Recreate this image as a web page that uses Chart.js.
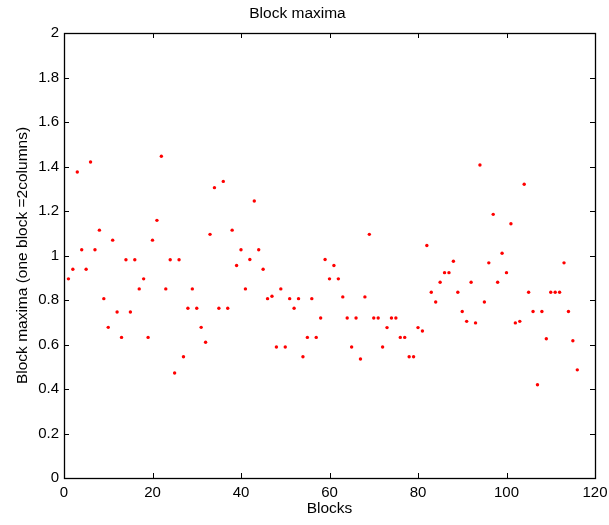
<!DOCTYPE html>
<html>
<head>
<meta charset="utf-8">
<title>Block maxima</title>
<script src="https://cdn.jsdelivr.net/npm/chart.js@4.4.0/dist/chart.umd.min.js"></script>
<style>
  html, body { margin: 0; padding: 0; background: #fff; }
  #wrap { width: 609px; height: 525px; }
</style>
</head>
<body>
<div id="wrap"><canvas id="maximaChart" width="609" height="525"></canvas></div>
<script>
// maximum of each block, block 1 .. 116
var blockMaxima = [
  0.895, 0.938, 1.375, 1.026, 0.938, 1.420, 1.026, 1.114, 0.806, 0.677,
  1.069, 0.746, 0.632, 0.981, 0.746, 0.981, 0.850, 0.895, 0.632, 1.069,
  1.158, 1.446, 0.850, 0.981, 0.472, 0.981, 0.545, 0.763, 0.850, 0.763,
  0.677, 0.610, 1.095, 1.305, 0.763, 1.333, 0.763, 1.114, 0.955, 1.026,
  0.850, 0.982, 1.245, 1.026, 0.938, 0.806, 0.817, 0.589, 0.850, 0.589,
  0.806, 0.763, 0.806, 0.545, 0.632, 0.806, 0.632, 0.719, 0.982, 0.895,
  0.955, 0.895, 0.814, 0.719, 0.589, 0.719, 0.535, 0.814, 1.095, 0.719,
  0.719, 0.589, 0.676, 0.719, 0.719, 0.632, 0.632, 0.545, 0.545, 0.676,
  0.661, 1.045, 0.835, 0.791, 0.880, 0.923, 0.923, 0.974, 0.835, 0.748,
  0.704, 0.880, 0.697, 1.407, 0.791, 0.967, 1.185, 0.880, 1.010, 0.923,
  1.143, 0.697, 0.704, 1.320, 0.835, 0.748, 0.419, 0.748, 0.626, 0.835,
  0.835, 0.835, 0.967, 0.748, 0.617, 0.486
];

var xTicks = [0, 20, 40, 60, 80, 100, 120];
var xTickLabels = ['0', '20', '40', '60', '80', '100', '120'];
var yTicks = [0, 0.2, 0.4, 0.6, 0.8, 1, 1.2, 1.4, 1.6, 1.8, 2];
var yTickLabels = ['0', '0.2', '0.4', '0.6', '0.8', '1', '1.2', '1.4', '1.6', '1.8', '2'];

var points = blockMaxima.map(function (v, i) {
  return { x: i + 1, y: v };
});

Chart.defaults.font.family = '"Liberation Sans", Arial, Helvetica, sans-serif';
Chart.defaults.color = '#000';

// box round the plot with short ticks pointing inwards on all four sides
var boxTicks = {
  id: 'boxTicks',
  afterDraw: function (chart) {
    var ctx = chart.ctx;
    var a = chart.chartArea;
    var xs = chart.scales.x;
    var ys = chart.scales.y;
    var len = 5;
    ctx.save();
    ctx.strokeStyle = '#000';
    ctx.lineWidth = 1;
    ctx.beginPath();
    xTicks.forEach(function (t) {
      var px = Math.round(xs.getPixelForValue(t)) + 0.5;
      ctx.moveTo(px, a.bottom);
      ctx.lineTo(px, a.bottom - len);
      ctx.moveTo(px, a.top);
      ctx.lineTo(px, a.top + len);
    });
    yTicks.forEach(function (t) {
      var py = Math.round(ys.getPixelForValue(t)) + 0.5;
      ctx.moveTo(a.left, py);
      ctx.lineTo(a.left + len, py);
      ctx.moveTo(a.right, py);
      ctx.lineTo(a.right - len, py);
    });
    ctx.stroke();
    ctx.lineWidth = 1.3;
    ctx.strokeRect(Math.round(a.left) + 0.5, Math.round(a.top) + 0.5,
      Math.round(a.right - a.left), Math.round(a.bottom - a.top));
    ctx.restore();
  }
};

var ctx = document.getElementById('maximaChart').getContext('2d');
var maximaChart = new Chart(ctx, {
  type: 'scatter',
  data: {
    datasets: [{
      data: points,
      backgroundColor: '#ff0000',
      borderWidth: 0,
      pointRadius: 1.7,
      pointHoverRadius: 1.7
    }]
  },
  plugins: [boxTicks],
  options: {
    responsive: false,
    animation: false,
    devicePixelRatio: 1,
    layout: { padding: { left: 0, right: 14, top: 0, bottom: 0 } },
    plugins: {
      legend: { display: false },
      tooltip: { enabled: false },
      title: {
        display: true,
        text: 'Block maxima',
        font: { size: 15.5, weight: 'normal' },
        padding: { top: 4, bottom: 10.4 }
      }
    },
    scales: {
      x: {
        type: 'linear',
        min: 0,
        max: 120,
        grid: { display: false, drawTicks: false },
        border: { display: false },
        afterBuildTicks: function (scale) {
          scale.ticks = xTicks.map(function (v) { return { value: v }; });
        },
        afterFit: function (scale) {
          scale.height = 47;
          scale.paddingLeft = 0;
          scale.paddingRight = 0;
        },
        ticks: {
          padding: 6,
          maxRotation: 0,
          font: { size: 15 },
          callback: function (v) { return xTickLabels[xTicks.indexOf(v)]; }
        },
        title: {
          display: true,
          text: 'Blocks',
          font: { size: 15.5 },
          padding: { top: 0, bottom: 7 }
        }
      },
      y: {
        type: 'linear',
        min: 0,
        max: 2,
        grid: { display: false, drawTicks: false },
        border: { display: false },
        afterBuildTicks: function (scale) {
          scale.ticks = yTicks.map(function (v) { return { value: v }; });
        },
        afterFit: function (scale) {
          scale.width = 64;
          scale.paddingTop = 0;
          scale.paddingBottom = 0;
        },
        ticks: {
          padding: 5,
          font: { size: 15 },
          callback: function (v) {
            var i = yTicks.findIndex(function (t) { return Math.abs(t - v) < 1e-9; });
            return yTickLabels[i];
          }
        },
        title: {
          display: true,
          text: 'Block maxima (one block =2columns)',
          font: { size: 15.5 },
          padding: { top: 13, bottom: 0 }
        }
      }
    }
  }
});
</script>
</body>
</html>
